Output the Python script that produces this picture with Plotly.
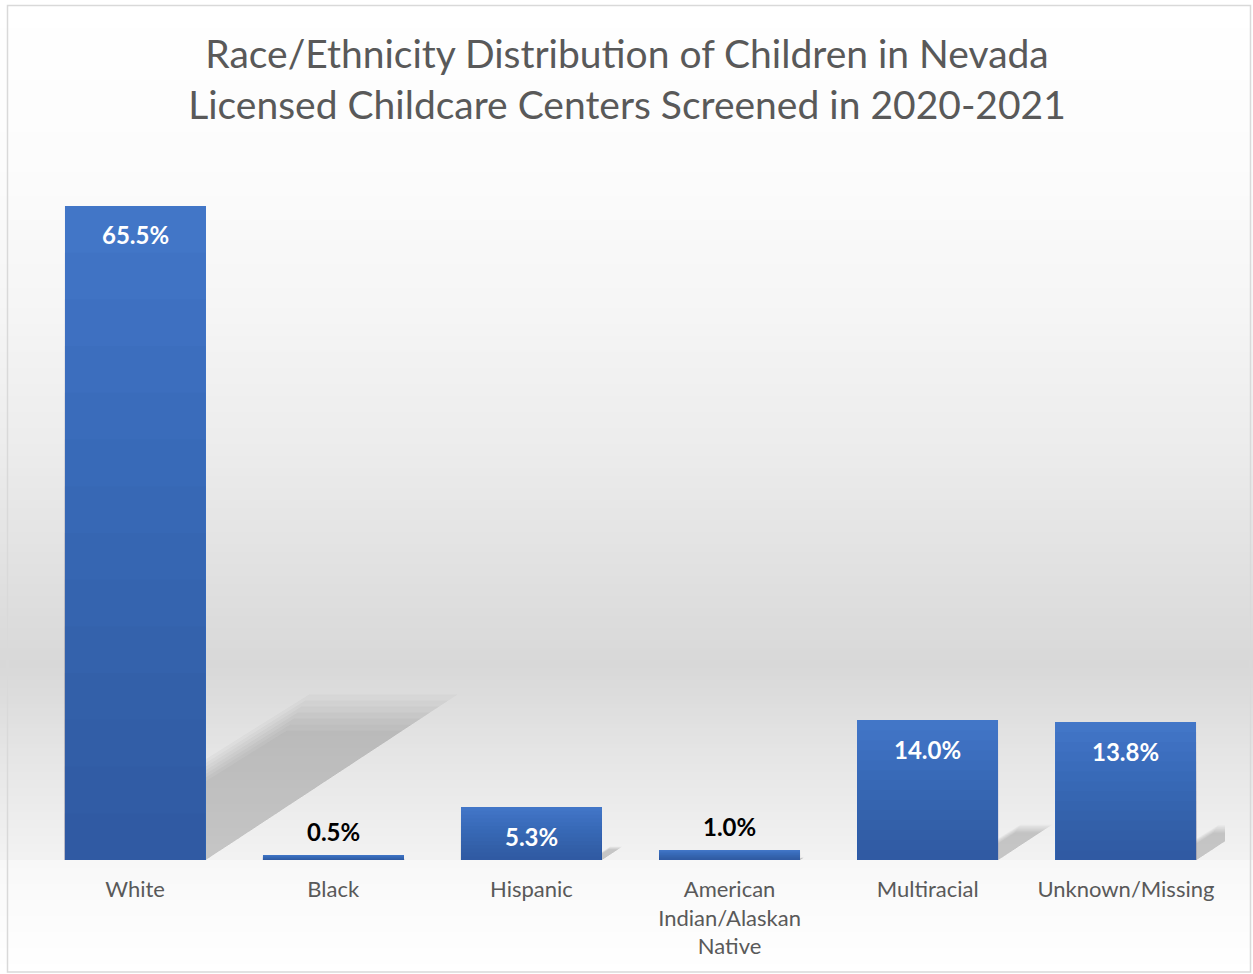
import plotly.graph_objects as go

categories = ["White", "Black", "Hispanic", "American<br>Indian/Alaskan<br>Native", "Multiracial", "Unknown/Missing"]
values = [65.5, 0.5, 5.3, 1.0, 14.0, 13.8]
labels = ["65.5%", "0.5%", "5.3%", "1.0%", "14.0%", "13.8%"]
inside = [True, False, True, False, True, True]

W, H = 1253, 974
L, R, T, B = 36, 28, 161, 114
PW, PH = W - L - R, H - T - B
YMAX = 70.0

def px(x):
    return (x - L) / PW

def py(y):
    return (H - B - y) / PH

xs = list(range(len(categories)))
BAR_W = 0.712

fig = go.Figure()
fig.add_trace(go.Bar(
    x=xs, y=values, width=BAR_W,
    marker=dict(color="#4479cb", line=dict(width=0)),
    hoverinfo="skip",
))

shapes = []
# background gradient (pixel y, gray level)
stops = [(0, 255), (160, 252), (300, 246), (450, 236), (580, 224), (665, 216),
         (760, 230), (858, 242), (861, 248), (974, 255)]

def level(y):
    for (y0, c0), (y1, c1) in zip(stops[:-1], stops[1:]):
        if y0 <= y <= y1:
            t = (y - y0) / (y1 - y0) if y1 > y0 else 0
            return c0 + (c1 - c0) * t
    return 255

step = 4
for y in range(0, H, step):
    c = int(round(level(y + step / 2)))
    shapes.append(dict(type="rect", xref="paper", yref="paper",
                       x0=px(0), x1=px(W), y0=py(y + step + 1), y1=py(y),
                       fillcolor=f"rgb({c},{c},{c})", line=dict(width=0), layer="below"))

# border
shapes.append(dict(type="rect", xref="paper", yref="paper",
                   x0=px(7.5), x1=px(1250.5), y0=py(972), y1=py(5.5),
                   fillcolor="rgba(0,0,0,0)", line=dict(color="#d9d9d9", width=1.5), layer="below"))

# perspective shadows derived from bar values (soft: several translucent layers)
px_per_unit_x = PW / 6.0
px_per_unit_y = PH / YMAX
grows = [0.86, 0.9, 0.94, 0.98, 1.02, 1.06, 1.1]
for i, v in enumerate(values):
    hpx = v * px_per_unit_y
    xr = xs[i] + BAR_W / 2
    for g in grows:
        pts = [(0, 0), (0, 0.14 * g), (0.144 * g, 0.23 * g), (0.35 * g, 0.23 * g)]
        path = "M " + " L ".join(
            f"{xr + a * hpx / px_per_unit_x},{b * v}" for a, b in pts) + " Z"
        shapes.append(dict(type="path", xref="x", yref="y", path=path,
                           fillcolor="rgba(60,60,60,0.035)", line=dict(width=0), layer="below"))

# vertical gradient on each bar (darker toward the base)
NG = 14
for i, v in enumerate(values):
    for k in range(1, NG + 1):
        shapes.append(dict(type="rect", xref="x", yref="y",
                           x0=xs[i] - BAR_W / 2, x1=xs[i] + BAR_W / 2,
                           y0=0, y1=v * k / NG,
                           fillcolor="rgba(30,60,120,0.036)", line=dict(width=0), layer="above"))

annotations = []
for i, (v, lab, ins) in enumerate(zip(values, labels, inside)):
    if ins:
        annotations.append(dict(x=xs[i], y=v, text=f"<b>{lab}</b>", showarrow=False,
                                xref="x", yref="y", yanchor="middle", yshift=-29,
                                font=dict(family="Lato", size=24, color="#ffffff")))
    else:
        annotations.append(dict(x=xs[i], y=v, text=f"<b>{lab}</b>", showarrow=False,
                                xref="x", yref="y", yanchor="bottom", yshift=7,
                                font=dict(family="Lato", size=24, color="#000000")))

fig.update_layout(
    width=W, height=H,
    margin=dict(l=L, r=R, t=T, b=B, autoexpand=False),
    paper_bgcolor="#ffffff",
    plot_bgcolor="rgba(0,0,0,0)",
    showlegend=False,
    title=dict(text="Race/Ethnicity Distribution of Children in Nevada<br>Licensed Childcare Centers Screened in 2020-2021",
               x=px(631), xanchor="center", y=1 - 68 / H, yanchor="middle",
               font=dict(family="Lato", size=39, color="#595959")),
    xaxis=dict(tickmode="array", tickvals=xs, ticktext=categories, range=[-0.5, 5.5],
               showgrid=False, zeroline=False, showline=False, ticks="",
               ticklabelstandoff=14,
               tickfont=dict(family="Lato", size=22, color="#595959")),
    yaxis=dict(range=[0, YMAX], visible=False, showgrid=False, zeroline=False),
    shapes=shapes,
    annotations=annotations,
    bargap=0,
)

fig.write_html("out.html")
